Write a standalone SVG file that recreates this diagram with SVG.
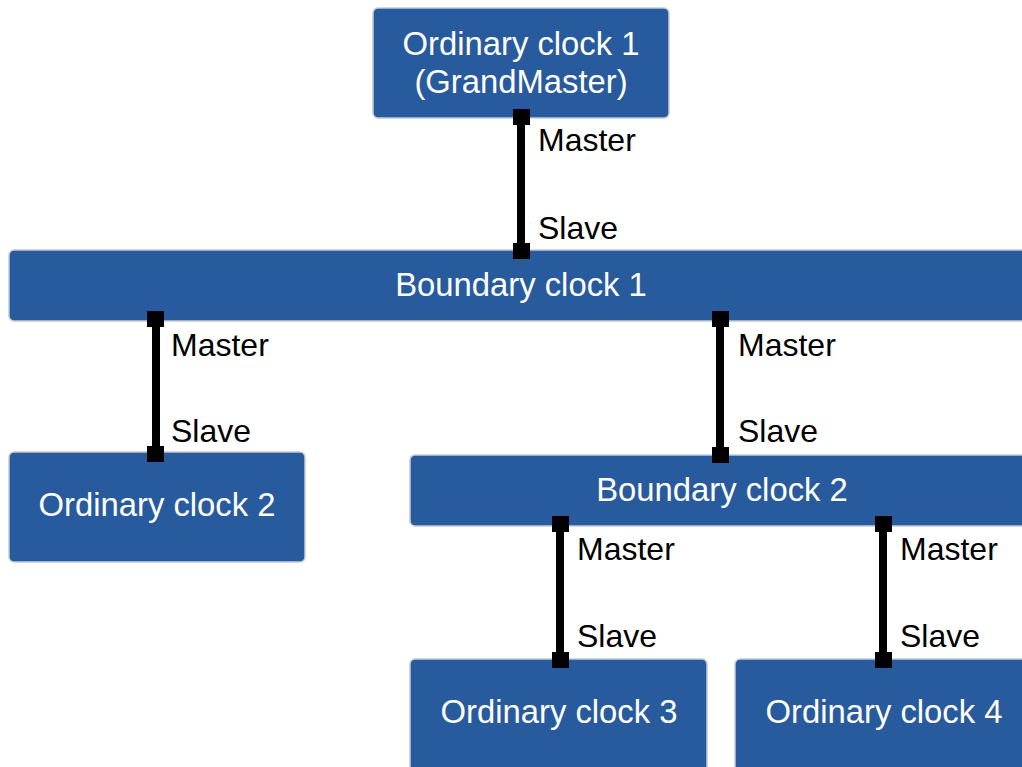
<svg xmlns="http://www.w3.org/2000/svg" width="1022" height="767" viewBox="0 0 1022 767">
<style>
.box{fill:#285b9e;stroke:#c5cad3;stroke-width:1.5}
.t{font-family:"Liberation Sans",Arial,sans-serif;font-size:32.8px;fill:#ffffff;text-anchor:middle}
.lbl{font-family:"Liberation Sans",Arial,sans-serif;font-size:32px;fill:#000000}
.ln{stroke:#000000;stroke-width:8;fill:none}
.sq{fill:#000000}
</style>
<rect width="1022" height="767" fill="#ffffff"/>
<g id="oc1"><rect class="box" x="373" y="8" width="296" height="110" rx="5"/><text class="t" x="521" y="55">Ordinary clock 1</text><text class="t" x="521" y="93">(GrandMaster)</text></g>
<g id="bc1"><rect class="box" x="9" y="250" width="1030" height="71" rx="5"/><text class="t" x="521" y="296">Boundary clock 1</text></g>
<g id="oc2"><rect class="box" x="9" y="452" width="296" height="110" rx="5"/><text class="t" x="157" y="516">Ordinary clock 2</text></g>
<g id="bc2"><rect class="box" x="410" y="455" width="630" height="71" rx="5"/><text class="t" x="722" y="501">Boundary clock 2</text></g>
<g id="oc3"><rect class="box" x="410" y="659" width="297" height="120" rx="5"/><text class="t" x="559" y="723">Ordinary clock 3</text></g>
<g id="oc4"><rect class="box" x="735" y="659" width="297" height="120" rx="5"/><text class="t" x="884" y="723">Ordinary clock 4</text></g>
<g id="connectors">
<line class="ln" x1="521" y1="117" x2="521" y2="251"/>
<rect class="sq" x="513" y="109" width="17" height="16"/><rect class="sq" x="513" y="243" width="17" height="16"/>
<text class="lbl" x="538" y="151">Master</text><text class="lbl" x="538" y="239">Slave</text>
<line class="ln" x1="156" y1="319" x2="156" y2="454"/>
<rect class="sq" x="147" y="311" width="17" height="16"/><rect class="sq" x="147" y="446" width="17" height="16"/>
<text class="lbl" x="171" y="356">Master</text><text class="lbl" x="171" y="442">Slave</text>
<line class="ln" x1="720" y1="319" x2="720" y2="455"/>
<rect class="sq" x="712" y="311" width="17" height="16"/><rect class="sq" x="712" y="447" width="17" height="16"/>
<text class="lbl" x="738" y="356">Master</text><text class="lbl" x="738" y="442">Slave</text>
<line class="ln" x1="560" y1="524" x2="560" y2="660"/>
<rect class="sq" x="552" y="516" width="17" height="16"/><rect class="sq" x="552" y="652" width="17" height="16"/>
<text class="lbl" x="577" y="560">Master</text><text class="lbl" x="577" y="647">Slave</text>
<line class="ln" x1="883" y1="524" x2="883" y2="660"/>
<rect class="sq" x="875" y="516" width="17" height="16"/><rect class="sq" x="875" y="652" width="17" height="16"/>
<text class="lbl" x="900" y="560">Master</text><text class="lbl" x="900" y="647">Slave</text>
</g>
</svg>
